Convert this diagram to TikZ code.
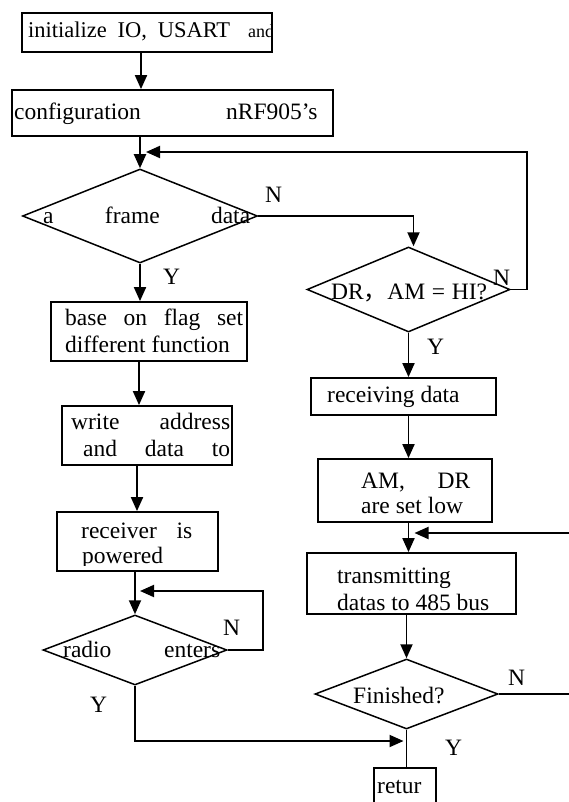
\documentclass[tikz,border=0pt]{standalone}
\usepackage{fontspec}
\setmainfont{Liberation Serif}
\newfontfamily\cjkfont{Noto Sans CJK SC}
\usetikzlibrary{shapes.geometric,arrows.meta}
\begin{document}
\begin{tikzpicture}[x=1pt,y=-1pt,
  box/.style={draw,line width=1.8pt,inner sep=0pt},
  dia/.style={draw,diamond,line width=1.5pt,inner sep=0pt},
  txt/.style={inner sep=0pt,anchor=base west,font=\fontsize{23.5}{28}\selectfont},
  arr/.style={line width=1.9pt,-{Triangle[length=14pt,width=12pt]}},
  ln/.style={line width=1.9pt}]
\useasboundingbox (0,0) rectangle (568,802);

% shapes
\node[box,minimum width=250pt,minimum height=39pt] (b1) at (147,32.5) {};
\node[box,minimum width=321pt,minimum height=46pt] (b2) at (172.5,113) {};
\node[dia,minimum width=235pt,minimum height=94pt] (d1) at (140,216) {};
\node[dia,minimum width=203pt,minimum height=85pt] (d2) at (408.5,289.5) {};
\node[box,minimum width=196pt,minimum height=59pt] (b3) at (149,331.5) {};
\node[box,minimum width=170pt,minimum height=59pt] (b4) at (147,435.5) {};
\node[box,minimum width=161pt,minimum height=59pt] (b5) at (137.5,541.5) {};
\node[dia,minimum width=184pt,minimum height=70pt] (d3) at (135,650) {};
\node[box,minimum width=185pt,minimum height=37pt] (b6) at (403.5,396.5) {};
\node[box,minimum width=174pt,minimum height=63pt] (b7) at (405,490.5) {};
\node[box,minimum width=209pt,minimum height=61pt] (b8) at (411.5,583.5) {};
\node[dia,minimum width=183pt,minimum height=70pt] (d4) at (406.5,694) {};
\node[box,minimum width=62pt,minimum height=50pt] (b9) at (405,793) {};

% texts
\node[txt,font=\fontsize{22.5}{27}\selectfont] (t1) at (28,38) {\makebox[202pt][s]{initialize IO, USART}};
\begin{scope}
  \clip (22,13) rectangle (271,52);
  \node[txt,font=\fontsize{18}{21}\selectfont] (t1b) at (248,38) {and};
\end{scope}
\node[txt] (t2a) at (14,120) {configuration};
\node[txt] (t2b) at (226,120) {nRF905’s};
\node[txt] (t3) at (43,223) {\makebox[207pt][s]{a frame data}};
\node[txt] (t4) at (331,299) {\makebox[156pt][s]{DR{\cjkfont ，}AM = HI?}};
\node[txt] (t5a) at (65,325) {\makebox[178pt][s]{base on flag set}};
\node[txt] (t5b) at (65,352) {different function};
\node[txt] (t6a) at (71,429) {\makebox[159pt][s]{write address}};
\node[txt] (t6b) at (83,456) {\makebox[147pt][s]{and data to}};
\node[txt] (t7a) at (81,538) {\makebox[111pt][s]{receiver is}};
\begin{scope}
  \clip (57,512) rectangle (218,565);
  \node[txt] (t7b) at (82,563) {powered};
\end{scope}
\node[txt] (t8) at (63,657) {\makebox[157pt][s]{radio enters}};
\node[txt] (t9) at (327,402) {receiving data};
\node[txt] (t10a) at (361,488) {\makebox[109pt][s]{AM, DR}};
\node[txt] (t10b) at (361,513) {are set low};
\node[txt] (t11a) at (337,583) {transmitting};
\node[txt] (t11b) at (337,610) {datas to 485 bus};
\node[txt] (t12) at (353,703) {Finished?};
\node[txt] (t13) at (377,793) {retur};

% labels
\node[txt] (n1) at (265,203) {N};
\node[txt] (y1) at (163,284) {Y};
\node[txt] (n2) at (493,285) {N};
\node[txt] (y2) at (427,354) {Y};
\node[txt] (n3) at (223,635) {N};
\node[txt] (y3) at (90,712) {Y};
\node[txt] (n4) at (508,685) {N};
\node[txt] (y4) at (445,755) {Y};

% coordinates for loops
\coordinate (lp1) at (527,152);
\coordinate (lp2) at (263,591);
\coordinate (lp3) at (135,741);
\coordinate (lp4) at (571,533);

% connectors
\draw[arr] ([xshift=-6pt]b1.south) -- ([xshift=-6pt]b1.south |- b2.north);
\draw[arr] (b2.south -| d1.north) -- (d1.north);
\draw[arr] (d2.east) -| (lp1) -- ([xshift=6pt]lp1 -| d1.north);
\draw[arr] (d1.east) -| ([xshift=5pt]d2.north);
\draw[arr] (d1.south) -- (d1.south |- b3.north);
\draw[arr] ([xshift=-10pt]b3.south) -- ([xshift=-10pt]b3.south |- b4.north);
\draw[arr] ([xshift=-10pt]b4.south) -- ([xshift=-10pt]b4.south |- b5.north);
\draw[arr] (b5.south -| d3.north) -- (d3.north);
\draw[arr] (d3.east) -| (lp2) -- ([xshift=5pt]lp2 -| d3.north);
\draw[arr] (d3.south) -- (lp3) -- ([xshift=-3pt]lp3 -| d4.south);
\draw[arr] (d2.south) -- (d2.south |- b6.north);
\draw[arr] (b6.south -| d2.south) -- (d2.south |- b7.north);
\draw[arr] (b7.south -| d2.south) -- (d2.south |- b8.north);
\draw[arr] (b8.south -| d4.north) -- (d4.north);
\draw[ln] (d4.south) -- (d4.south |- b9.north);
\draw[arr] (d4.east) -| (lp4) -- ([xshift=6pt]lp4 -| d2.south);
\end{tikzpicture}
\end{document}
